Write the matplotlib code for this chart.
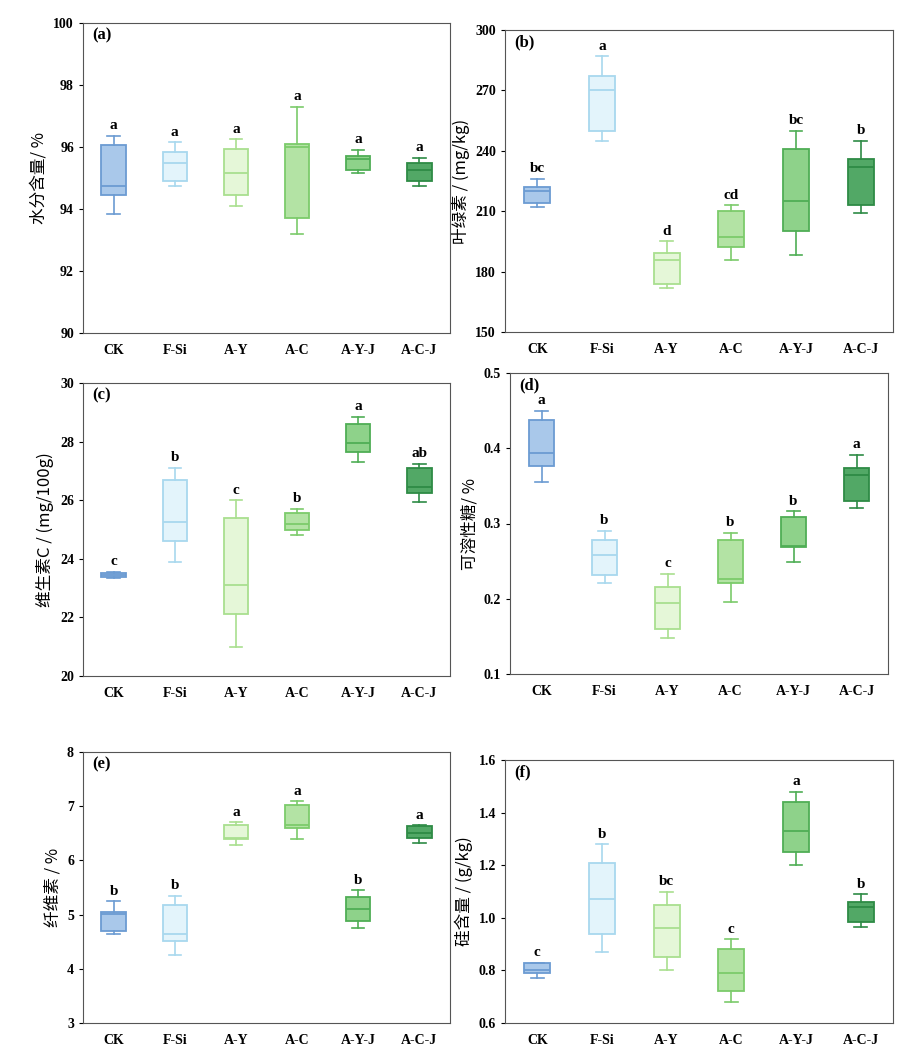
import matplotlib.pyplot as plt

plt.rcParams['font.family'] = ['Liberation Serif', 'Noto Sans CJK SC']

groups = ['CK', 'F-Si', 'A-Y', 'A-C', 'A-Y-J', 'A-C-J']
fills = ['#a9c8ea', '#e3f4fb', '#e5f7d8', '#b3e3a4', '#8ed28a', '#52a866']
edges = ['#6b9bd2', '#a8d8ee', '#a9df8f', '#7ccb6b', '#4fae55', '#2e8b45']

# (whislo, q1, med, q3, whishi), letter
panels = [
    dict(tag='(a)', ylabel='水分含量/ %', ylim=(90, 100), ticks=[90, 92, 94, 96, 98, 100], fmt='{:.0f}',
         pos=(83, 23, 450, 333),
         stats=[(93.85, 94.45, 94.75, 96.05, 96.35), (94.75, 94.9, 95.5, 95.85, 96.15),
                (94.1, 94.45, 95.15, 95.95, 96.25), (93.2, 93.7, 96.0, 96.1, 97.3),
                (95.15, 95.25, 95.6, 95.7, 95.9), (94.75, 94.9, 95.25, 95.5, 95.65)],
         letters=['a', 'a', 'a', 'a', 'a', 'a']),
    dict(tag='(b)', ylabel='叶绿素 / (mg/kg)', ylim=(150, 300), ticks=[150, 180, 210, 240, 270, 300], fmt='{:.0f}',
         pos=(505, 30, 893, 332),
         stats=[(212, 214, 220, 222, 226), (245, 250, 270, 277, 287), (172, 174, 186, 189, 195),
                (186, 192, 197, 210, 213), (188, 200, 215, 241, 250), (209, 213, 232, 236, 245)],
         letters=['bc', 'a', 'd', 'cd', 'bc', 'b']),
    dict(tag='(c)', ylabel='维生素C / (mg/100g)', ylim=(20, 30), ticks=[20, 22, 24, 26, 28, 30], fmt='{:.0f}',
         pos=(83, 383, 450, 676),
         stats=[(23.35, 23.38, 23.45, 23.52, 23.55), (23.9, 24.6, 25.25, 26.7, 27.1),
                (21.0, 22.1, 23.1, 25.4, 26.0), (24.8, 25.0, 25.2, 25.55, 25.7),
                (27.3, 27.65, 27.95, 28.6, 28.85), (25.95, 26.25, 26.45, 27.1, 27.25)],
         letters=['c', 'b', 'c', 'b', 'a', 'ab']),
    dict(tag='(d)', ylabel='可溶性糖/ %', ylim=(0.1, 0.5), ticks=[0.1, 0.2, 0.3, 0.4, 0.5], fmt='{:.1f}',
         pos=(510, 373, 888, 674),
         stats=[(0.355, 0.377, 0.394, 0.437, 0.45), (0.221, 0.231, 0.258, 0.278, 0.29),
                (0.148, 0.16, 0.195, 0.216, 0.233), (0.196, 0.221, 0.226, 0.278, 0.288),
                (0.249, 0.269, 0.27, 0.308, 0.316), (0.32, 0.33, 0.364, 0.374, 0.391)],
         letters=['a', 'b', 'c', 'b', 'b', 'a']),
    dict(tag='(e)', ylabel='纤维素 / %', ylim=(3, 8), ticks=[3, 4, 5, 6, 7, 8], fmt='{:.0f}',
         pos=(83, 752, 450, 1023),
         stats=[(4.65, 4.7, 5.02, 5.05, 5.25), (4.25, 4.52, 4.65, 5.18, 5.35), (6.28, 6.4, 6.42, 6.65, 6.7),
                (6.4, 6.6, 6.65, 7.02, 7.1), (4.75, 4.88, 5.1, 5.32, 5.45), (6.33, 6.42, 6.5, 6.63, 6.65)],
         letters=['b', 'b', 'a', 'a', 'b', 'a']),
    dict(tag='(f)', ylabel='硅含量 / (g/kg)', ylim=(0.6, 1.6), ticks=[0.6, 0.8, 1.0, 1.2, 1.4, 1.6], fmt='{:.1f}',
         pos=(505, 760, 893, 1023),
         stats=[(0.77, 0.79, 0.8, 0.83, 0.83), (0.87, 0.94, 1.07, 1.21, 1.28), (0.8, 0.85, 0.96, 1.05, 1.1),
                (0.68, 0.72, 0.79, 0.88, 0.92), (1.2, 1.25, 1.33, 1.44, 1.48), (0.965, 0.985, 1.04, 1.06, 1.09)],
         letters=['c', 'b', 'bc', 'c', 'a', 'b']),
]

W, H = 914, 1061
fig = plt.figure(figsize=(W / 100, H / 100), dpi=100)

for p in panels:
    x0, y0, x1, y1 = p['pos']
    ax = fig.add_axes([x0 / W, 1 - y1 / H, (x1 - x0) / W, (y1 - y0) / H])
    bxp = []
    for g, s in zip(groups, p['stats']):
        bxp.append(dict(label=g, whislo=s[0], q1=s[1], med=s[2], q3=s[3], whishi=s[4], fliers=[]))
    for i, st in enumerate(bxp):
        ax.bxp([st], positions=[i + 1], widths=0.4, patch_artist=True, showfliers=False,
               boxprops=dict(facecolor=fills[i], edgecolor=edges[i], linewidth=1.3),
               medianprops=dict(color=edges[i], linewidth=1.3),
               whiskerprops=dict(color=edges[i], linewidth=1.2),
               capprops=dict(color=edges[i], linewidth=1.2))
    lo, hi = p['ylim']
    off = (hi - lo) * 0.012
    for i, (s, l) in enumerate(zip(p['stats'], p['letters'])):
        ax.text(i + 1, s[4] + off, l, ha='center', va='bottom', fontsize=11, fontweight='bold')
    ax.set_xlim(0.5, 6.5)
    ax.set_ylim(lo, hi)
    ax.set_yticks(p['ticks'])
    ax.set_yticklabels([p['fmt'].format(t) for t in p['ticks']], fontweight='bold', fontsize=10)
    ax.set_xticks(range(1, 7))
    ax.set_xticklabels(groups, fontweight='bold', fontsize=10)
    ax.tick_params(axis='x', length=0, pad=8)
    ax.tick_params(axis='y', direction='out', length=3)
    ax.set_ylabel(p['ylabel'], fontsize=12, family=['Noto Sans CJK SC', 'Liberation Serif'])
    ax.text(0.025, 0.985, p['tag'], transform=ax.transAxes, ha='left', va='top', fontsize=12, fontweight='bold')
    for sp in ax.spines.values():
        sp.set_color('#555555')

fig.savefig('out.png', dpi=100)
